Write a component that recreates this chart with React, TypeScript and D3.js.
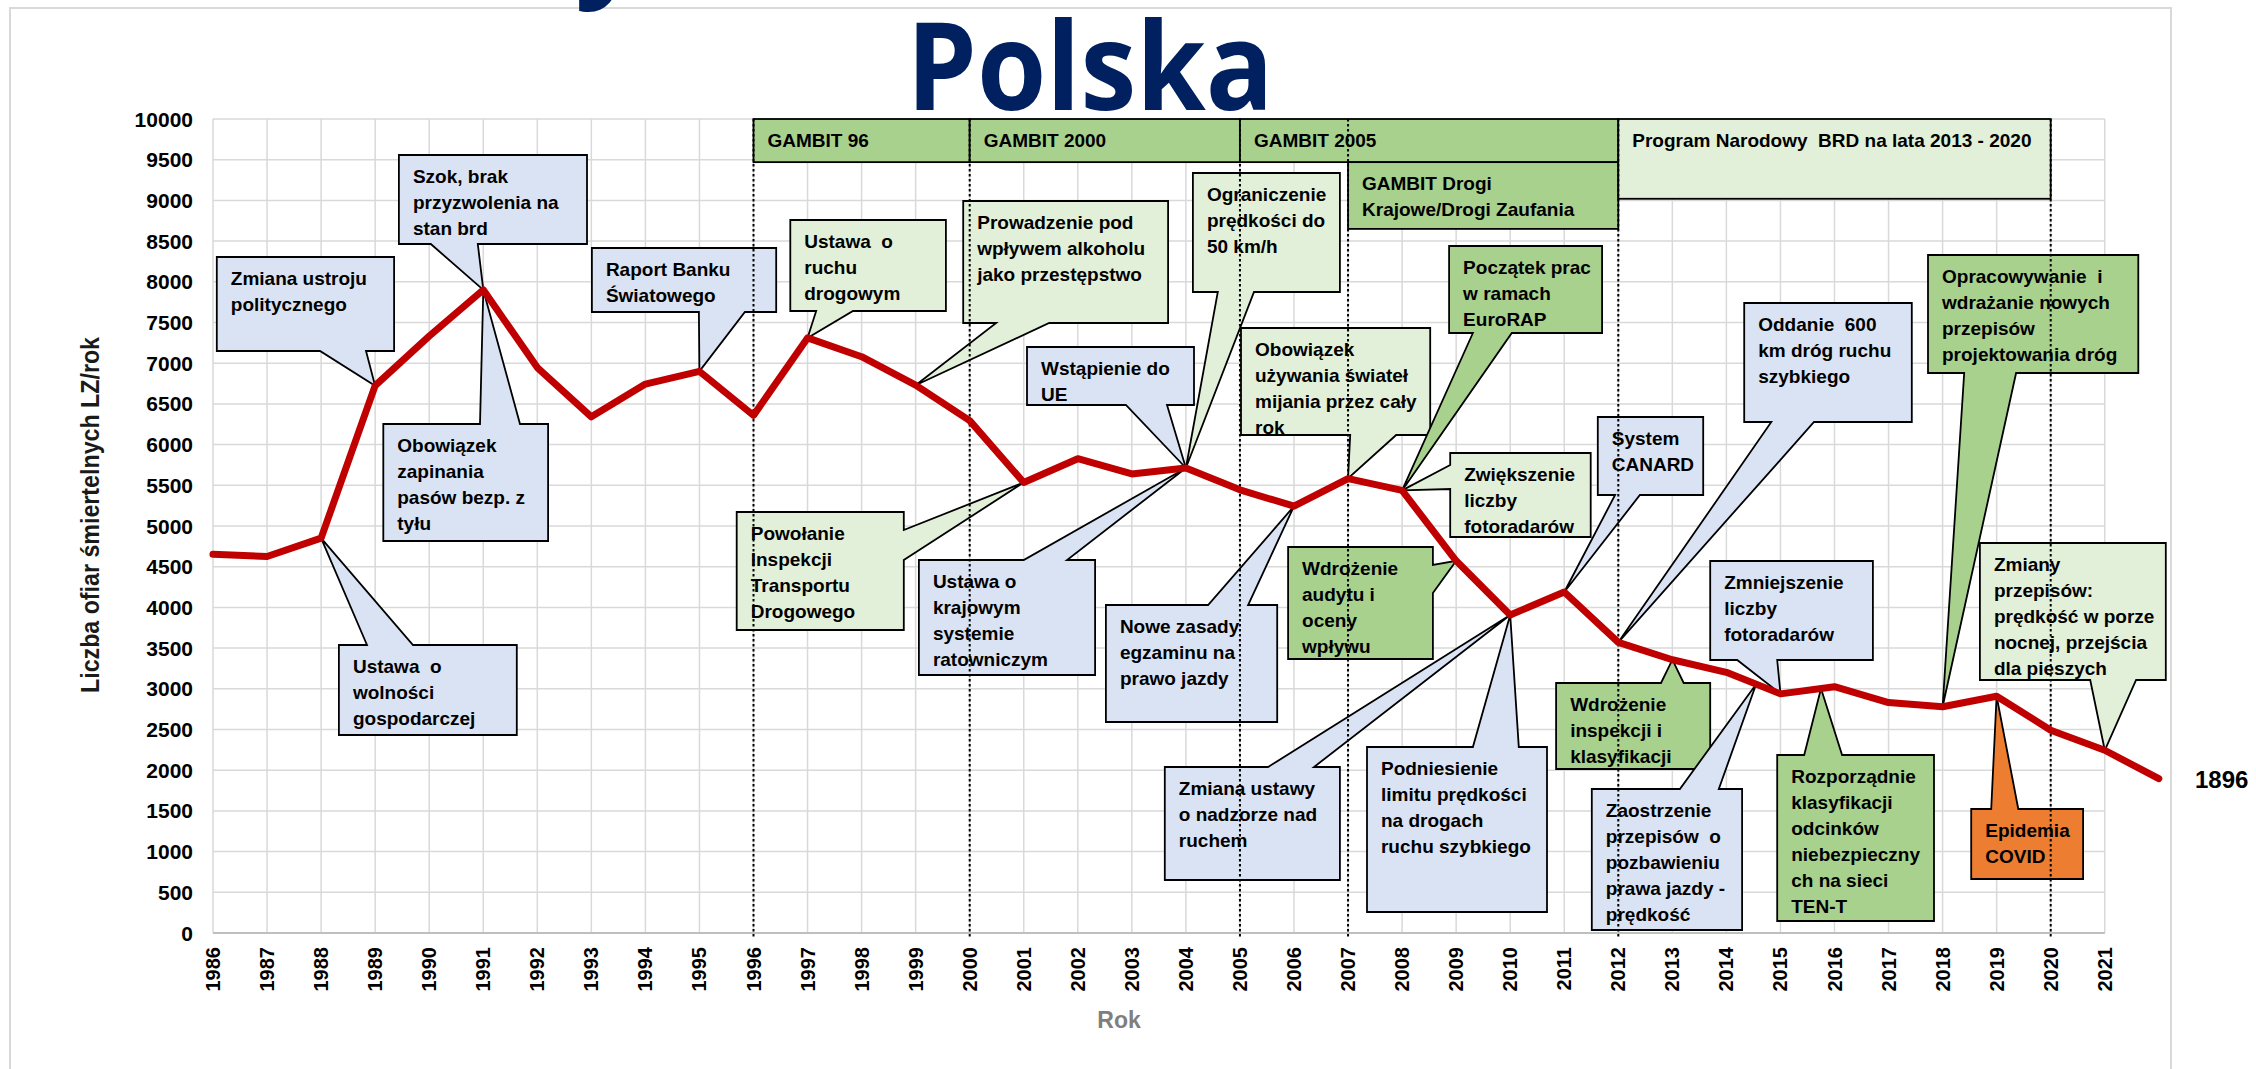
import React from "react";
import * as d3 from "d3";

// ---------- data ----------
const years = d3.range(1986, 2023);
const deaths = [
  4653, 4625, 4851, 6724, 7333, 7901, 6946, 6341, 6744, 6900, 6359, 7311, 7080,
  6730, 6294, 5534, 5827, 5640, 5712, 5444, 5243, 5583, 5437, 4572, 3907, 4189,
  3571, 3357, 3202, 2938, 3026, 2831, 2780, 2909, 2491, 2245, 1896,
];
const xTickYears = d3.range(1986, 2022);
const yTicks = d3.range(0, 10001, 500);
const lastLabel = "1896";

const titleText = "Polska";
const yAxisTitle = "Liczba ofiar śmiertelnych LZ/rok";
const xAxisTitle = "Rok";

const periodLabels = [
  "GAMBIT 96",
  "GAMBIT 2000",
  "GAMBIT 2005",
  "GAMBIT Drogi\nKrajowe/Drogi Zaufania",
  "Program Narodowy  BRD na lata 2013 - 2020",
];
const periodStart = [1996, 2000, 2005, 2007, 2012];
const periodEnd = [2000, 2005, 2012, 2012, 2020];
const periodKinds = ["program", "program", "program", "program", "measure"];
const markerYears = [1996, 2000, 2005, 2007, 2012, 2020];

const noteTexts = [
  "Zmiana ustroju\npolitycznego",
  "Szok, brak\nprzyzwolenia na\nstan brd",
  "Obowiązek\nzapinania\npasów bezp. z\ntyłu",
  "Ustawa  o\nwolności\ngospodarczej",
  "Raport Banku\nŚwiatowego",
  "Ustawa  o\nruchu\ndrogowym",
  "Prowadzenie pod\nwpływem alkoholu\njako przestępstwo",
  "Ograniczenie\nprędkości do\n50 km/h",
  "Wstąpienie do\nUE",
  "Obowiązek\nużywania świateł\nmijania przez cały\nrok",
  "Początek prac\nw ramach\nEuroRAP",
  "Zwiększenie\nliczby\nfotoradarów",
  "System\nCANARD",
  "Oddanie  600\nkm dróg ruchu\nszybkiego",
  "Opracowywanie  i\nwdrażanie nowych\nprzepisów\nprojektowania dróg",
  "Zmiany\nprzepisów:\nprędkość w porze\nnocnej, przejścia\ndla pieszych",
  "Zmniejszenie\nliczby\nfotoradarów",
  "Powołanie\nInspekcji\nTransportu\nDrogowego",
  "Ustawa o\nkrajowym\nsystemie\nratowniczym",
  "Nowe zasady\negzaminu na\nprawo jazdy",
  "Wdrożenie\naudytu i\noceny\nwpływu",
  "Zmiana ustawy\no nadzorze nad\nruchem",
  "Podniesienie\nlimitu prędkości\nna drogach\nruchu szybkiego",
  "Wdrożenie\ninspekcji i\nklasyfikacji",
  "Zaostrzenie\nprzepisów  o\npozbawieniu\nprawa jazdy -\nprędkość",
  "Rozporządnie\nklasyfikacji\nodcinków\nniebezpieczny\nch na sieci\nTEN-T",
  "Epidemia\nCOVID",
];
const noteKinds = [
  "event", "event", "event", "event", "event", "measure", "measure", "measure",
  "event", "measure", "program", "measure", "event", "event", "program",
  "measure", "event", "measure", "event", "event", "program", "event", "event",
  "program", "event", "program", "covid",
];
const noteTargets = [
  1989, 1991, 1991, 1988, 1995, 1997, 1999, 2004, 2004, 2007, 2008, 2008, 2011,
  2012, 2018, 2021, 2015, 2001, 2004, 2006, 2009, 2010, 2010, 2013, 2014.55,
  2015.75, 2019,
];

// ---------- layout (data units: years / deaths) ----------
const periodBands = [
  [10000, 9470],
  [10000, 9470],
  [10000, 9470],
  [9470, 8650],
  [10000, 9020],
];
const noteBoxes = [
  [1986.07, 1989.35, 8305, 7150],
  [1989.44, 1992.92, 9558, 8464],
  [1989.15, 1992.2, 6253, 4816],
  [1988.33, 1991.62, 3538, 2432],
  [1993.01, 1996.42, 8415, 7629],
  [1996.68, 1999.56, 8759, 7641],
  [1999.88, 2003.67, 8993, 7494],
  [2004.13, 2006.85, 9337, 7875],
  [2001.06, 2004.15, 7199, 6486],
  [2005.02, 2008.52, 7432, 6118],
  [2008.87, 2011.7, 8440, 7371],
  [2008.89, 2011.49, 5897, 4865],
  [2011.62, 2013.57, 6339, 5381],
  [2014.33, 2017.43, 7740, 6278],
  [2017.73, 2021.62, 8329, 6880],
  [2018.69, 2022.13, 4791, 3108],
  [2013.7, 2016.71, 4570, 3354],
  [1995.69, 1998.78, 5172, 3722],
  [1999.06, 2002.32, 4582, 3170],
  [2002.52, 2005.69, 4029, 2592],
  [2005.89, 2008.57, 4742, 3366],
  [2003.61, 2006.85, 2039, 651],
  [2007.35, 2010.68, 2285, 258],
  [2010.85, 2013.7, 3071, 2015],
  [2011.51, 2014.29, 1769, 37],
  [2014.94, 2017.84, 2187, 147],
  [2018.53, 2020.6, 1523, 663],
];
const noteSides = [
  "bottom", "bottom", "top", "top", "bottom", "bottom", "bottom", "bottom",
  "bottom", "bottom", "bottom", "left", "bottom", "bottom", "bottom", "bottom",
  "bottom", "right", "top", "top", "right", "top", "top", "top", "top", "top",
  "top",
];
const noteBases = [
  [1987.98, 1988.83],
  [1990.03, 1990.9],
  [1990.94, 1991.68],
  [1988.85, 1989.7],
  [1994.99, 1995.84],
  [1997.16, 1997.84],
  [2000.49, 2001.47],
  [2004.59, 2005.26],
  [2002.89, 2003.65],
  [2007.04, 2007.89],
  [2009.31, 2010.03],
  [5749, 5455],
  [2011.94, 2012.4],
  [2014.83, 2015.62],
  [2018.4, 2019.36],
  [2020.73, 2021.58],
  [2014.2, 2014.94],
  [4951, 4582],
  [2001.0, 2001.8],
  [2004.41, 2005.15],
  [4521, 4177],
  [2005.52, 2006.37],
  [2009.31, 2010.16],
  [2012.79, 2013.21],
  [2013.14, 2013.86],
  [2015.44, 2016.14],
  [2018.9, 2019.4],
];

const FILL: Record<string, string> = {
  event: "#dae3f3",
  measure: "#e2f0d9",
  program: "#a9d18e",
  covid: "#ed7d31",
};

const SANS = "'Liberation Sans', Arial, sans-serif";
const TITLE_FONT = "'Open Sans', 'Noto Sans', sans-serif";

export default function App() {
  const W = 2256;
  const H = 1069;
  const x = d3.scaleLinear().domain([1986, 2021]).range([213, 2104.75]);
  const y = d3.scaleLinear().domain([0, 10000]).range([933, 119]);
  const interp = d3.scaleLinear().domain(years).range(deaths);

  const linePath =
    d3
      .line<number>()
      .x((_, i) => x(years[i]))
      .y((d) => y(d))(deaths) || "";

  const calloutPath = (i: number) => {
    const [a0, a1, t, b] = noteBoxes[i];
    const X0 = x(a0),
      X1 = x(a1),
      Y0 = y(t),
      Y1 = y(b);
    const tx = x(noteTargets[i]);
    const ty = y(interp(noteTargets[i]));
    const side = noteSides[i];
    const [p, q] = noteBases[i];
    let pts: number[][];
    if (side === "bottom") {
      const P = x(p),
        Q = x(q);
      pts = [[X0, Y0], [X1, Y0], [X1, Y1], [Q, Y1], [tx, ty], [P, Y1], [X0, Y1]];
    } else if (side === "top") {
      const P = x(p),
        Q = x(q);
      pts = [[X0, Y0], [P, Y0], [tx, ty], [Q, Y0], [X1, Y0], [X1, Y1], [X0, Y1]];
    } else if (side === "left") {
      const P = y(p),
        Q = y(q);
      pts = [[X0, Y0], [X1, Y0], [X1, Y1], [X0, Y1], [X0, Q], [tx, ty], [X0, P]];
    } else {
      const P = y(p),
        Q = y(q);
      pts = [[X0, Y0], [X1, Y0], [X1, P], [tx, ty], [X1, Q], [X1, Y1], [X0, Y1]];
    }
    return "M" + pts.map((pt) => pt.map((v) => v.toFixed(1)).join(",")).join("L") + "Z";
  };

  const multiline = (text: string, x0: number, y0: number, key: string) => (
    <text
      key={key}
      x={x0}
      y={y0}
      fontFamily={SANS}
      fontWeight={700}
      fontSize={19}
      fill="#000"
    >
      {text.split("\n").map((ln, j) => (
        <tspan key={j} x={x0} y={y0 + j * 26} style={{ whiteSpace: "pre" }}>
          {ln}
        </tspan>
      ))}
    </text>
  );

  return (
    <svg
      width={W}
      height={H}
      viewBox={`0 0 ${W} ${H}`}
      style={{ position: "absolute", left: 0, top: 0, background: "#fff" }}
    >
      <rect x={0} y={0} width={W} height={H} fill="#fff" />
      {/* chart area border */}
      <rect x={10} y={8} width={2161} height={1100} fill="none" stroke="#d9d9d9" strokeWidth={2} />

      {/* title (with the descender of the line above, cut by the frame) */}
      <text
        x={575}
        y={-17}
        fontFamily={TITLE_FONT}
        fontWeight={700}
        fontSize={122}
        fill="#002060"
      >
        y
      </text>
      <text
        x={1090}
        y={110}
        textAnchor="middle"
        fontFamily={TITLE_FONT}
        fontWeight={700}
        fontSize={122}
        fill="#002060"
        textLength={367}
        lengthAdjust="spacingAndGlyphs"
      >
        {titleText}
      </text>

      {/* gridlines */}
      <g stroke="#d9d9d9" strokeWidth={1.5}>
        {yTicks.map((t) => (
          <line key={"h" + t} x1={x(1986)} x2={x(2021)} y1={y(t)} y2={y(t)} />
        ))}
        {xTickYears.map((yr) => (
          <line key={"v" + yr} x1={x(yr)} x2={x(yr)} y1={y(10000)} y2={y(0)} />
        ))}
      </g>
      <line x1={x(1986)} x2={x(2021)} y1={y(0)} y2={y(0)} stroke="#bfbfbf" strokeWidth={2} />

      {/* y tick labels */}
      {yTicks.map((t) => (
        <text
          key={"yl" + t}
          x={193}
          y={y(t) + 7.5}
          textAnchor="end"
          fontFamily={SANS}
          fontWeight={700}
          fontSize={21}
          fill="#000"
        >
          {t}
        </text>
      ))}

      {/* x tick labels */}
      {xTickYears.map((yr) => (
        <text
          key={"xl" + yr}
          transform={`translate(${x(yr)},947) rotate(-90)`}
          textAnchor="end"
          dominantBaseline="central"
          fontFamily={SANS}
          fontWeight={700}
          fontSize={20}
          fill="#000"
        >
          {yr}
        </text>
      ))}

      {/* axis titles */}
      <text
        transform={`translate(90,515) rotate(-90)`}
        textAnchor="middle"
        dominantBaseline="central"
        fontFamily={SANS}
        fontWeight={700}
        fontSize={25}
        fill="#1a1a1a"
        textLength={356}
        lengthAdjust="spacingAndGlyphs"
      >
        {yAxisTitle}
      </text>
      <text
        x={1119}
        y={1028}
        textAnchor="middle"
        fontFamily={SANS}
        fontWeight={700}
        fontSize={23}
        fill="#7f7f7f"
      >
        {xAxisTitle}
      </text>

      {/* period bars */}
      {periodLabels.map((lab, i) => {
        const X0 = x(periodStart[i]);
        const X1 = x(periodEnd[i]);
        const Y0 = y(periodBands[i][0]);
        const Y1 = y(periodBands[i][1]);
        return (
          <g key={"p" + i}>
            <rect
              x={X0}
              y={Y0}
              width={X1 - X0}
              height={Y1 - Y0}
              fill={FILL[periodKinds[i]]}
              stroke="#000"
              strokeWidth={1.8}
            />
            {multiline(lab, X0 + 14, Y0 + 28, "pt" + i)}
          </g>
        );
      })}

      {/* callouts */}
      {noteTexts.map((txt, i) => {
        const X0 = x(noteBoxes[i][0]);
        const Y0 = y(noteBoxes[i][2]);
        return (
          <g key={"n" + i}>
            <path
              d={calloutPath(i)}
              fill={FILL[noteKinds[i]]}
              stroke="#000"
              strokeWidth={1.8}
              strokeLinejoin="miter"
            />
            {multiline(txt, X0 + 14, Y0 + 28, "nt" + i)}
          </g>
        );
      })}

      {/* dotted markers */}
      {markerYears.map((yr) => (
        <line
          key={"m" + yr}
          x1={x(yr)}
          x2={x(yr)}
          y1={y(10000)}
          y2={y(0) + 5}
          stroke="#000"
          strokeWidth={2}
          strokeDasharray="2.5,2.5"
        />
      ))}

      {/* data line */}
      <path
        d={linePath}
        fill="none"
        stroke="#c00000"
        strokeWidth={7}
        strokeLinejoin="round"
        strokeLinecap="round"
      />

      {/* end label */}
      <text
        x={2195}
        y={y(deaths[deaths.length - 1]) + 9}
        fontFamily={SANS}
        fontWeight={700}
        fontSize={24}
        fill="#000"
      >
        {lastLabel}
      </text>
    </svg>
  );
}
